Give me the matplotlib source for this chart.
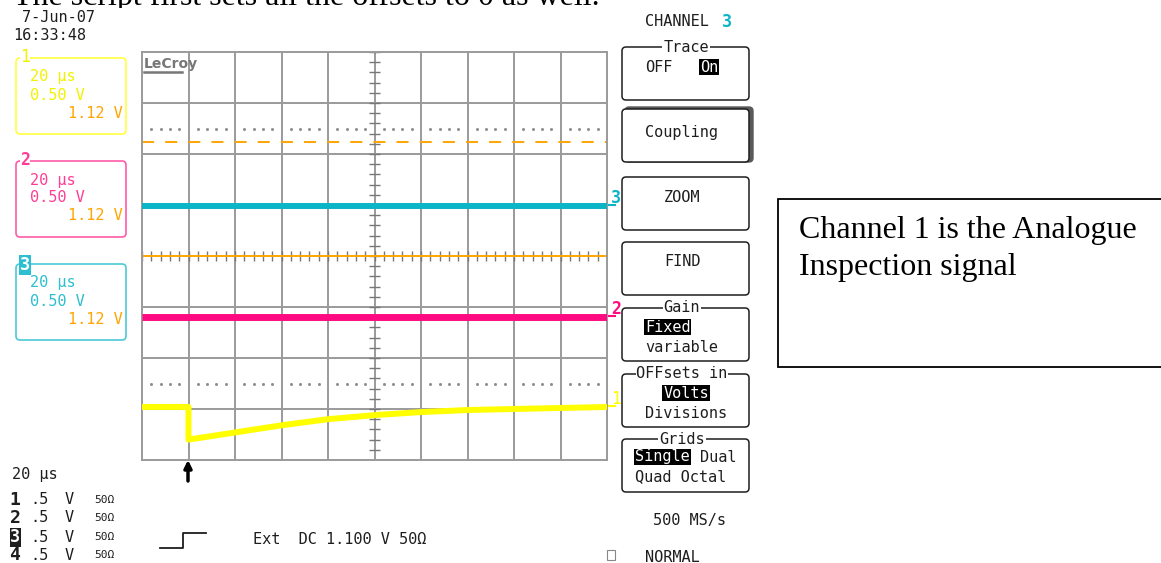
import matplotlib
matplotlib.use('Agg')
import matplotlib.pyplot as plt
from matplotlib.patches import Rectangle, FancyBboxPatch
import numpy as np

# scope settings
time_per_div = 20        # us / div
volts_per_div = 0.5      # V / div
n_xdiv = 10
n_ydiv = 8

# traces (time in us, level in V)
ch1_t = [0, 20, 20, 40, 60, 80, 100, 120, 140, 160, 180, 200]
ch1_v = [-1.48, -1.48, -1.80, -1.73, -1.66, -1.60, -1.56, -1.53, -1.51, -1.50, -1.49, -1.48]
ch2_t = [0, 200]
ch2_v = [-0.60, -0.60]
ch3_t = [0, 200]
ch3_v = [0.49, 0.49]
trig_level = 1.12        # V, dashed orange
marker_level = 1.25      # V, dotted rows (+/- 2.5 div)

# channel panels on the left
panel_ids = ['1', '2', '3']
panel_timebase = ['20 µs', '20 µs', '20 µs']
panel_gain = ['0.50 V', '0.50 V', '0.50 V']
panel_trig = ['1.12 V', '1.12 V', '1.12 V']

# summary at bottom left
chan_ids = ['1', '2', '3', '4']
chan_gain = ['.5', '.5', '.5', '.5']
chan_unit = ['V', 'V', 'V', 'V']
chan_imp = ['50Ω', '50Ω', '50Ω', '50Ω']

YEL = '#ffff00'
PINK = '#ff0a80'
CYAN = '#0bb5c6'
ORANGE = '#ffa500'
GRID = '#9a9a9a'
INK = '#1e1e1e'
MONO = 'DejaVu Sans Mono'
SERIF = 'Liberation Serif'

fig = plt.figure(figsize=(11.61, 5.63), dpi=100)

# page / overlay axes in pixel units
bg = fig.add_axes([0, 0, 1, 1])
bg.set_xlim(0, 1161)
bg.set_ylim(563, 0)
bg.axis('off')

# document text cut off by the screenshot
bg.text(13, 5, 'The script first sets all the offsets to 0 as well.', family=SERIF,
        fontsize=23, va='baseline', ha='left', color='black', zorder=0)
bg.add_patch(Rectangle((0, 8), 770, 560, facecolor='white', edgecolor='none', zorder=0.5))

# text box on the right
bg.add_patch(Rectangle((778, 199), 420, 168, facecolor='white', edgecolor='black', lw=1.3, zorder=1))
bg.text(799, 238, 'Channel 1 is the Analogue', family=SERIF, fontsize=23, va='baseline', zorder=2)
bg.text(799, 275, 'Inspection signal', family=SERIF, fontsize=23, va='baseline', zorder=2)

def mono(x, y, s, color=INK, size=11, ha='left', **kw):
    return bg.text(x, y, s, family=MONO, fontsize=size, color=color, ha=ha, va='center', zorder=3, **kw)

# date / time
mono(22, 18, '7-Jun-07')
mono(13, 36, '16:33:48')

# channel panels
panel_top = [58, 161, 264]
panel_edge = ['#ffff40', '#ff5aa8', '#4cc8d6']
panel_text = ['#f2f200', '#ff3d96', '#2dbfcf']
for i in range(3):
    top = panel_top[i]
    bg.add_patch(FancyBboxPatch((16, top), 110, 76, boxstyle='round,pad=0,rounding_size=4',
                                facecolor='none', edgecolor=panel_edge[i], lw=1.2, zorder=2))
    if i == 2:
        mono(25, top + 1, panel_ids[i], color='white', size=12, ha='center', weight='bold',
             bbox=dict(facecolor=panel_text[i], edgecolor='none', pad=0.6))
    else:
        mono(25, top - 1, panel_ids[i], color=panel_text[i], size=12, ha='center',
             weight='bold' if i == 1 else 'normal',
             bbox=dict(facecolor='white', edgecolor='none', pad=0.3))
    mono(30, top + 19, panel_timebase[i], color=panel_text[i])
    mono(30, top + 37, panel_gain[i], color=panel_text[i])
    mono(123, top + 55, panel_trig[i], color=ORANGE, ha='right')

# bottom-left summary
mono(12, 475, '20 µs')
row_y = [500, 518, 537, 555]
for i in range(4):
    if chan_ids[i] == '3':
        mono(15, row_y[i], chan_ids[i], color='white', size=12, ha='center', weight='bold',
             bbox=dict(facecolor=INK, edgecolor='none', pad=0.4))
    else:
        mono(15, row_y[i], chan_ids[i], size=13, ha='center', weight='bold')
    mono(30, row_y[i], chan_gain[i])
    mono(65, row_y[i], chan_unit[i])
    mono(94, row_y[i], chan_imp[i], size=8)

# trigger symbol and setting
bg.plot([160, 183, 183, 206], [548, 548, 533, 533], color=INK, lw=1.3, zorder=3)
mono(253, 540, 'Ext  DC 1.100 V 50Ω')

# trigger position arrow
bg.annotate('', xy=(188, 460), xytext=(188, 481),
            arrowprops=dict(arrowstyle='-|>', color='black', lw=2.5, mutation_scale=11,
                            shrinkA=0, shrinkB=0), zorder=3)

# right-hand menu
mono(645, 22, 'CHANNEL')
mono(722, 22, '3', color=CYAN, size=12, weight='bold')
menu_tops = [47, 109, 177, 242, 308, 374, 439]
for k, top in enumerate(menu_tops):
    if k == 1:
        bg.add_patch(FancyBboxPatch((625, top - 2), 128, 55, boxstyle='round,pad=0,rounding_size=4',
                                    facecolor='#5a5a5a', edgecolor='#5a5a5a', lw=1, zorder=2))
    bg.add_patch(FancyBboxPatch((622, top), 127, 53, boxstyle='round,pad=0,rounding_size=4',
                                facecolor='white', edgecolor=INK, lw=1.1, zorder=2))

inv = dict(facecolor='black', edgecolor='none', pad=0.5)
title = dict(facecolor='white', edgecolor='none', pad=0.5)
mono(686, 47, 'Trace', ha='center', bbox=title)
mono(645, 67, 'OFF')
mono(700, 67, 'On', color='white', bbox=inv)
mono(645, 132, 'Coupling')
mono(682, 197, 'ZOOM', ha='center')
mono(682, 262, 'FIND', ha='center')
mono(682, 308, 'Gain', ha='center', bbox=title)
mono(645, 327, 'Fixed', color='white', bbox=inv)
mono(645, 347, 'variable')
mono(682, 374, 'OFFsets in', ha='center', bbox=title)
mono(686, 393, 'Volts', color='white', ha='center', bbox=inv)
mono(645, 413, 'Divisions')
mono(682, 439, 'Grids', ha='center', bbox=title)
mono(635, 457, 'Single', color='white', bbox=inv)
mono(700, 457, 'Dual')
mono(635, 477, 'Quad Octal')
mono(653, 520, '500 MS/s')
bg.add_patch(Rectangle((607, 550), 8, 10, facecolor='white', edgecolor='#888888', lw=0.8, zorder=3))
mono(645, 557, 'NORMAL')

# scope graticule
ax = fig.add_axes([142 / 1161, (563 - 460) / 563, 465 / 1161, 408 / 563])
xmax = time_per_div * n_xdiv
ymax = volts_per_div * n_ydiv / 2
ax.set_xlim(0, xmax)
ax.set_ylim(-ymax, ymax)
ax.set_xticks([])
ax.set_yticks([])
for s in ax.spines.values():
    s.set_color(GRID)
    s.set_linewidth(1.4)

for x in np.arange(1, n_xdiv) * time_per_div:
    ax.axvline(x, color=GRID, lw=1.4, zorder=1)
for y in (np.arange(1, n_ydiv) - n_ydiv / 2) * volts_per_div:
    if y != 0:
        ax.axhline(y, color=GRID, lw=1.4, zorder=1)

# minor ticks on the centre axes
minor_y = np.arange(-ymax, ymax + 1e-9, volts_per_div / 5)
ax.hlines(minor_y, xmax / 2 - 2.3, xmax / 2 + 2.3, color='#777777', lw=1.0, zorder=2)
minor_x = np.arange(0, xmax + 1e-9, time_per_div / 5)
ax.vlines(minor_x, -0.05, 0.05, color='#777777', lw=1.0, zorder=2)

# dotted marker rows
dot_x = np.concatenate([k * time_per_div + np.array([4, 8, 12, 16]) for k in range(n_xdiv)])
for lvl in (marker_level, -marker_level):
    ax.plot(dot_x, np.full(len(dot_x), lvl), ls='none', marker='s', ms=1.0, color='#8a8a8a', zorder=2)

# trigger level and zero line
ax.axhline(0, color=ORANGE, lw=1.4, zorder=2)
ax.axhline(trig_level, color=ORANGE, lw=1.4, dashes=(6.2, 5.7), zorder=2)

# traces
ax.plot(ch3_t, ch3_v, color=CYAN, lw=4.3, solid_capstyle='butt', zorder=4)
ax.plot(ch2_t, ch2_v, color=PINK, lw=5.0, solid_capstyle='butt', zorder=4)
ax.plot(ch1_t, ch1_v, color=YEL, lw=4.3, solid_capstyle='butt', zorder=4)

# LeCroy logo
ax.text(144, 64, 'LeCroy', transform=bg.transData, family='DejaVu Sans', weight='bold', fontsize=10,
        color='#777777', va='center', ha='left', zorder=5)
ax.plot([144, 182], [72, 72], transform=bg.transData, color='#777777', lw=1.8, zorder=5, clip_on=False)

# channel markers on the right edge
for lbl, col, y in [('3', CYAN, ch3_v[-1]), ('2', PINK, ch2_v[-1]), ('1', YEL, ch1_v[-1])]:
    ax.annotate(lbl, xy=(1.0, y), xycoords=('axes fraction', 'data'), xytext=(4, 8),
                textcoords='offset pixels', family=MONO, fontsize=12, color=col,
                weight='bold' if lbl != '1' else 'normal', va='center', annotation_clip=False)
    ax.plot([xmax + 1.0, xmax + 3.5], [y + 0.01, y + 0.01], color=col, lw=1.5, clip_on=False, zorder=5)

fig.savefig('out.png', dpi=100)
